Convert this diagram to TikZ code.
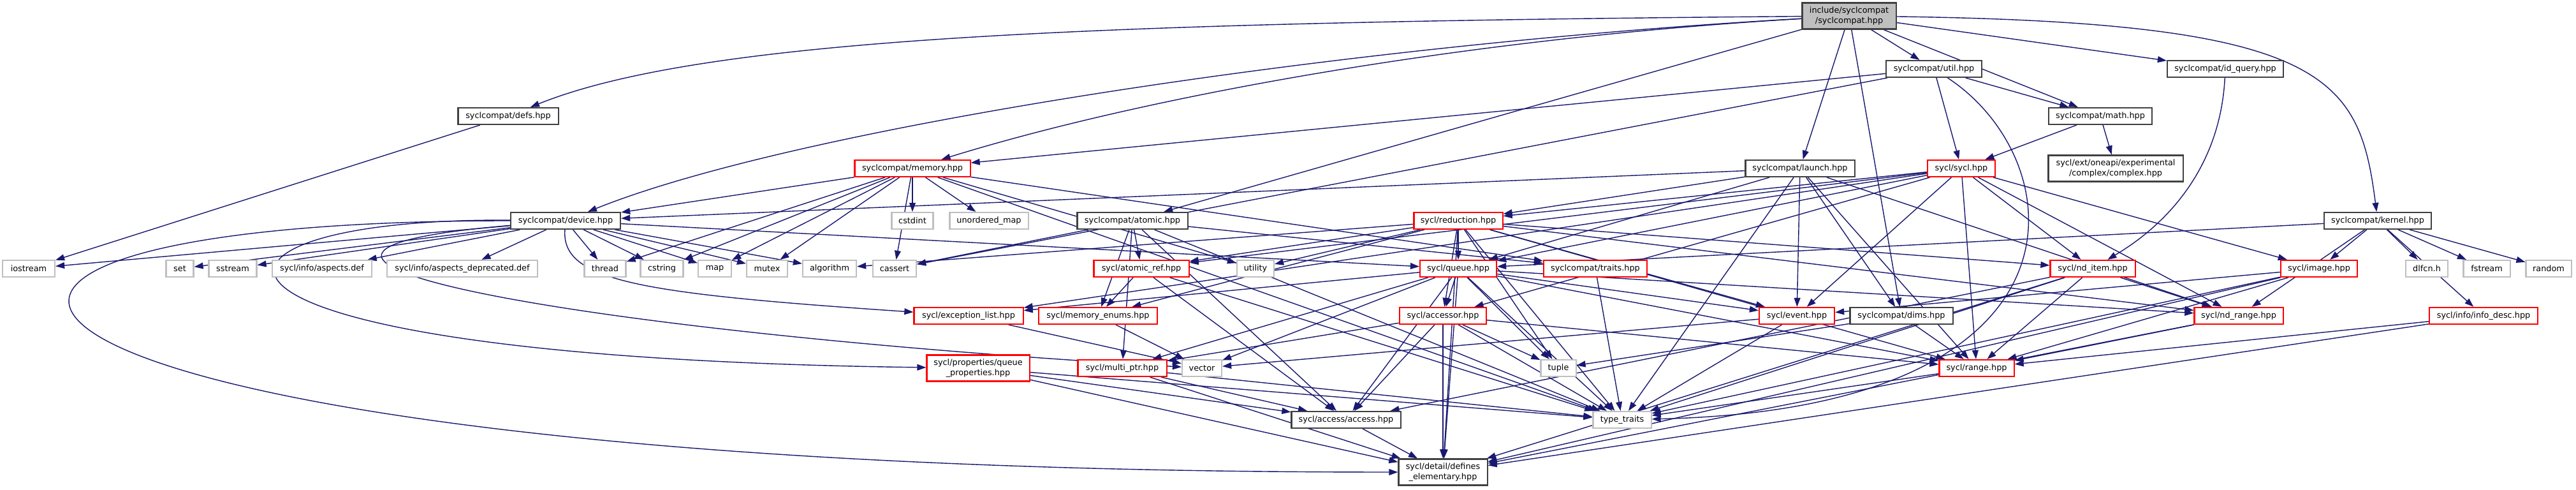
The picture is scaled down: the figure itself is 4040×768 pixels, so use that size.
\documentclass[tikz,border=0pt]{standalone}
\usepackage{fontspec}
\setmainfont{DejaVu Sans}
\usetikzlibrary{arrows.meta,backgrounds}

\definecolor{depblue}{HTML}{191970}
\definecolor{sysgray}{HTML}{BFBFBF}
\definecolor{darkline}{HTML}{404040}
\definecolor{truncred}{HTML}{FF0000}

\tikzset{
  file/.style={rectangle,draw=darkline,fill=white,line width=0.6pt,inner sep=0pt,
    minimum height=0.26cm,font=\fontsize{3.65}{4.4}\selectfont},
  trunc/.style={file,draw=truncred},
  sysfile/.style={file,draw=sysgray},
  twoline/.style={align=center,minimum height=0.41cm},
  mainfile/.style={file,twoline,fill=sysgray},
  dep/.style={draw=depblue,line width=0.4pt,-{Triangle[length=4pt,width=2.8pt]}}
}

\begin{document}
\begin{tikzpicture}[x=0.01cm,y=-0.01cm]
\useasboundingbox (0,0) rectangle (4040,768);

% top rows
\node[mainfile,minimum width=1.47cm] (top) at (2900,25) {include/syclcompat\\/syclcompat.hpp};
\node[file,minimum width=1.50cm] (util) at (3033,108) {syclcompat/util.hpp};
\node[file,minimum width=1.82cm] (idquery) at (3490,108) {syclcompat/id\_query.hpp};
\node[file,minimum width=1.57cm] (defs) at (797,182) {syclcompat/defs.hpp};
\node[file,minimum width=1.62cm] (math) at (3294,182) {syclcompat/math.hpp};
\node[trunc,minimum width=1.81cm] (memory) at (1431,264) {syclcompat/memory.hpp};
\node[file,minimum width=1.71cm] (launch) at (2823,264) {syclcompat/launch.hpp};
\node[trunc,minimum width=1.06cm] (syclh) at (3076,264) {sycl/sycl.hpp};
\node[file,twoline,minimum width=2.11cm] (complex) at (3318,264) {sycl/ext/oneapi/experimental\\/complex/complex.hpp};

% rank of device.hpp
\node[file,minimum width=1.72cm] (device) at (887,346) {syclcompat/device.hpp};
\node[sysfile,minimum width=0.65cm] (cstdint) at (1431,346) {cstdint};
\node[sysfile,minimum width=1.23cm] (umap) at (1551,346) {unordered\_map};
\node[file,minimum width=1.73cm] (atomic) at (1776,346) {syclcompat/atomic.hpp};
\node[trunc,minimum width=1.39cm] (reduction) at (2287,346) {sycl/reduction.hpp};
\node[file,minimum width=1.68cm] (kernel) at (3729,346) {syclcompat/kernel.hpp};

% headers row
\node[sysfile,minimum width=0.82cm] (iostream) at (45,421) {iostream};
\node[sysfile,minimum width=0.43cm] (set) at (282,421) {set};
\node[sysfile,minimum width=0.75cm] (sstream) at (365,421) {sstream};
\node[sysfile,minimum width=1.56cm] (aspects) at (505,421) {sycl/info/aspects.def};
\node[sysfile,minimum width=2.35cm] (aspectsdep) at (725,421) {sycl/info/aspects\_deprecated.def};
\node[sysfile,minimum width=0.65cm] (thread) at (949,421) {thread};
\node[sysfile,minimum width=0.67cm] (cstring) at (1038,421) {cstring};
\node[sysfile,minimum width=0.52cm] (map) at (1121,421) {map};
\node[sysfile,minimum width=0.64cm] (mutex) at (1203,421) {mutex};
\node[sysfile,minimum width=0.84cm] (algorithm) at (1301,421) {algorithm};
\node[sysfile,minimum width=0.68cm] (cassert) at (1403,421) {cassert};
\node[trunc,minimum width=1.49cm] (atomicref) at (1790,421) {sycl/atomic\_ref.hpp};
\node[sysfile,minimum width=0.58cm] (utility) at (1969,421) {utility};
\node[trunc,minimum width=1.20cm] (queue) at (2287,421) {sycl/queue.hpp};
\node[trunc,minimum width=1.62cm] (traits) at (2502,421) {syclcompat/traits.hpp};
\node[trunc,minimum width=1.33cm] (nditem) at (3282,421) {sycl/nd\_item.hpp};
\node[trunc,minimum width=1.20cm] (image) at (3637,421) {sycl/image.hpp};
\node[sysfile,minimum width=0.66cm] (dlfcn) at (3806,421) {dlfcn.h};
\node[sysfile,minimum width=0.73cm] (fstream) at (3900,421) {fstream};
\node[sysfile,minimum width=0.71cm] (random) at (3997,421) {random};

\node[trunc,minimum width=1.71cm] (exclist) at (1519,495) {sycl/exception\_list.hpp};
\node[trunc,minimum width=1.86cm] (memenums) at (1722,495) {sycl/memory\_enums.hpp};
\node[trunc,minimum width=1.36cm] (accessor) at (2263,495) {sycl/accessor.hpp};
\node[trunc,minimum width=1.18cm] (event) at (2818,495) {sycl/event.hpp};
\node[file,minimum width=1.61cm] (dims) at (2982,495) {syclcompat/dims.hpp};
\node[trunc,minimum width=1.39cm] (ndrange) at (3511,495) {sycl/nd\_range.hpp};
\node[trunc,minimum width=1.70cm] (infodesc) at (3895,495) {sycl/info/info\_desc.hpp};

\node[trunc,twoline,minimum width=1.61cm] (queueprops) at (1534,577) {sycl/properties/queue\\\_properties.hpp};
\node[trunc,minimum width=1.39cm] (multiptr) at (1760,577) {sycl/multi\_ptr.hpp};
\node[sysfile,minimum width=0.62cm] (vector) at (1885,577) {vector};
\node[sysfile,minimum width=0.55cm] (tuple) at (2444,577) {tuple};
\node[trunc,minimum width=1.17cm] (range) at (3100,577) {sycl/range.hpp};

\node[file,minimum width=1.71cm] (access) at (2111,658) {sycl/access/access.hpp};
\node[sysfile,minimum width=0.91cm] (typetraits) at (2544,658) {type\_traits};
\node[file,twoline,minimum width=1.39cm] (defines) at (2263,740) {sycl/detail/defines\\\_elementary.hpp};

\begin{scope}[on background layer]
% syclcompat.hpp
\foreach \dst in {util,idquery,math,atomic,launch,dims}
  \draw[dep] (top) -- (\dst);
\draw[dep] (top) .. controls (1700,35) and (1100,60) .. (defs);
\draw[dep] (top) .. controls (2100,70) and (1250,200) .. (device);
\draw[dep] (top) .. controls (2300,60) and (1800,150) .. (memory);
\draw[dep] (top) .. controls (3650,35) and (3700,120) .. (kernel);
\draw[dep] (defs) -- (iostream);
\foreach \dst in {memory,cassert,syclh,math}
  \draw[dep] (util) -- (\dst);
\draw[dep] (util) .. controls (3250,250) and (3300,640) .. (typetraits);
\foreach \dst in {syclh,complex}
  \draw[dep] (math) -- (\dst);
\draw[dep] (idquery) .. controls (3480,300) and (3350,380) .. (nditem);
\foreach \dst in {queue,ndrange,image,infodesc,dlfcn,fstream,random}
  \draw[dep] (kernel) -- (\dst);
\foreach \dst in {device,reduction,queue,event,dims,range,ndrange,typetraits}
  \draw[dep] (launch) -- (\dst);
\foreach \dst in {device,thread,cstring,map,mutex,cassert,cstdint,umap,utility,traits,typetraits}
  \draw[dep] (memory) -- (\dst);
% device.hpp
\foreach \dst in {iostream,set,sstream,aspects,aspectsdep,thread,cstring,map,mutex,algorithm,queue}
  \draw[dep] (device) -- (\dst);
\draw[dep] (device) .. controls (-400,346) and (-100,740) .. (defines);
\draw[dep] (device) .. controls (250,340) and (200,560) .. (queueprops);
\draw[dep] (device) .. controls (880,440) and (1000,460) .. (exclist);
\draw[dep] (device) .. controls (250,400) and (900,520) .. (vector);
\foreach \dst in {cassert,atomicref,memenums,multiptr,access,typetraits,traits}
  \draw[dep] (atomic) -- (\dst);
% sycl headers
\foreach \dst in {reduction,queue,accessor,atomicref,exclist,event,range,nditem,ndrange,image}
  \draw[dep] (syclh) -- (\dst);
\foreach \dst in {algorithm,atomicref,utility,memenums,queue,accessor,event,nditem,ndrange,range,tuple,typetraits,defines}
  \draw[dep] (reduction) -- (\dst);
\foreach \dst in {exclist,accessor,vector,multiptr,access,tuple,typetraits,event,range,ndrange,defines}
  \draw[dep] (queue) -- (\dst);
\foreach \dst in {multiptr,access,defines,tuple,typetraits,range}
  \draw[dep] (accessor) -- (\dst);
\foreach \dst in {memenums,access,typetraits}
  \draw[dep] (atomicref) -- (\dst);
\draw[dep] (memenums) -- (vector);
\draw[dep] (exclist) -- (vector);
\foreach \dst in {access,typetraits,defines}
  \draw[dep] (multiptr) -- (\dst);
\foreach \dst in {access,typetraits,defines}
  \draw[dep] (queueprops) -- (\dst);
\draw[dep] (access) -- (defines);
\draw[dep] (traits) -- (typetraits);
\foreach \dst in {vector,typetraits}
  \draw[dep] (event) -- (\dst);
\foreach \dst in {range,tuple}
  \draw[dep] (dims) -- (\dst);
\foreach \dst in {range,ndrange,typetraits,defines,access}
  \draw[dep] (nditem) -- (\dst);
\foreach \dst in {event,range,typetraits,defines}
  \draw[dep] (image) -- (\dst);
\foreach \dst in {range,defines}
  \draw[dep] (ndrange) -- (\dst);
\foreach \dst in {range,defines}
  \draw[dep] (infodesc) -- (\dst);
\draw[dep] (range) -- (typetraits);
\end{scope}
\end{tikzpicture}
\end{document}
